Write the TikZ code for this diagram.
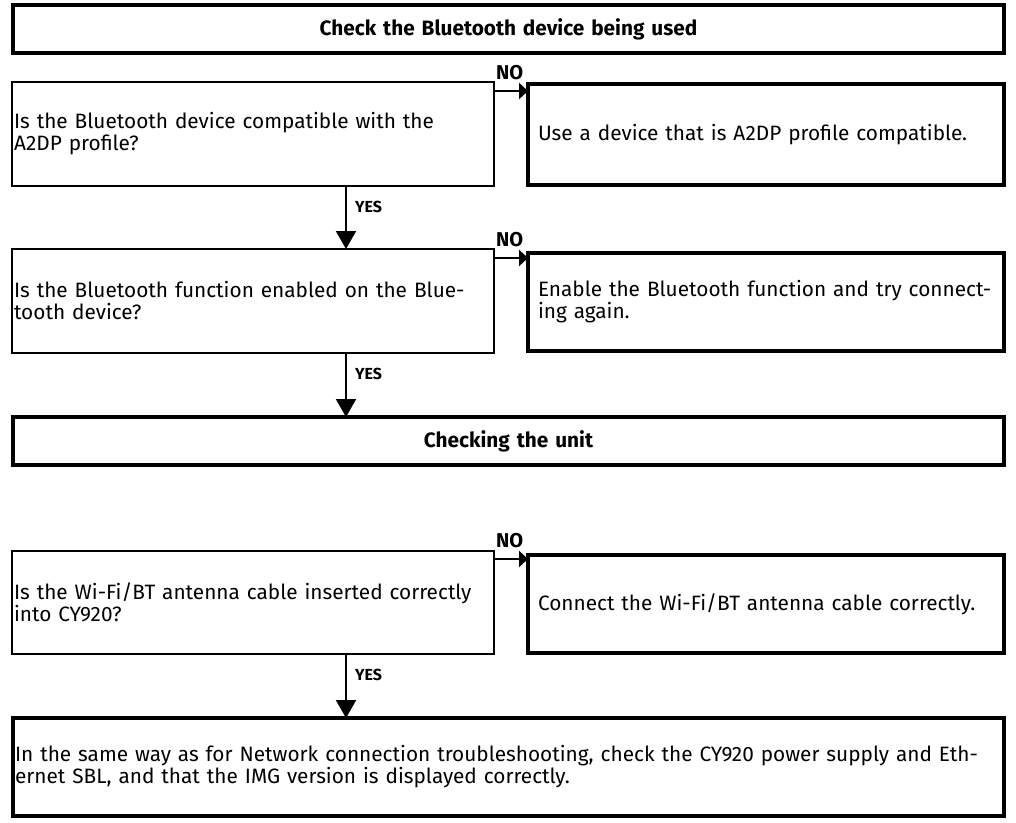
\documentclass[tikz,border=0pt]{standalone}
\usepackage{fontspec}
\setmainfont{Fira Sans}
\usetikzlibrary{arrows.meta}

\newcommand\txtfont{\fontsize{20.8}{22}\selectfont}

\begin{document}
\begin{tikzpicture}[x=1pt,y=-1pt,
  qbox/.style={draw,line width=1.2pt,outer sep=0pt,anchor=north west,align=left,
    inner xsep=2pt,text width=478pt,font=\txtfont},
  abox/.style={draw,line width=3.5pt,outer sep=0pt,anchor=north west,align=left,
    inner xsep=10pt,text width=456pt,font=\txtfont},
  headbox/.style={draw,line width=3.5pt,outer sep=0pt,anchor=north west,align=center,
    inner xsep=3pt,text width=985pt,minimum height=48pt,font=\bfseries\txtfont},
  endbox/.style={abox,inner xsep=2pt,text width=987pt},
  yes/.style={-{Triangle[width=20pt,length=18pt]},line width=2pt},
  no/.style={-{Triangle[width=16pt,length=9pt]},line width=2.4pt},
  yeslbl/.style={anchor=west,pos=0.33,xshift=8pt,inner sep=0pt,font=\bfseries\fontsize{16}{16}\selectfont},
  nolbl/.style={anchor=base west,yshift=12pt,xshift=1pt,inner sep=0pt,font=\bfseries\fontsize{20}{20}\selectfont}
]
\useasboundingbox (0,0) rectangle (1016,822);

% Bluetooth device
\node[headbox] (head1) at (13,5) {Check the Bluetooth device being used};
\node[qbox,minimum height=104pt] (q1) at (12,82)
  {Is the Bluetooth device compatible with the\\A2DP profile?};
\node[abox,minimum height=101pt] (a1) at (528,84)
  {Use a device that is A2DP profile compatible.};
\node[qbox,minimum height=104pt] (q2) at (12,249)
  {Is the Bluetooth function enabled on the Blue-\\tooth device?};
\node[abox,minimum height=98pt] (a2) at (528,253)
  {Enable the Bluetooth function and try connect-\\ing again.};

% unit
\node[headbox] (head2) at (13,417) {Checking the unit};
\node[qbox,minimum height=103pt] (q3) at (12,551)
  {Is the Wi-Fi/BT antenna cable inserted correctly\\into CY920?};
\node[abox,minimum height=98pt] (a3) at (528,555)
  {Connect the Wi-Fi/BT antenna cable correctly.};
\node[endbox,minimum height=98pt] (fin) at (13,718)
  {In the same way as for Network connection troubleshooting, check the CY920 power supply and Eth-\\ernet SBL, and that the IMG version is displayed correctly.};

% YES arrows
\coordinate (yx) at (346,0);
\draw[yes] (q1.south -| yx) -- node[yeslbl] {YES} (q2.north -| yx);
\draw[yes] (q2.south -| yx) -- node[yeslbl] {YES} (head2.north -| yx);
\draw[yes] (q3.south -| yx) -- node[yeslbl] {YES} (fin.north -| yx);

% NO arrows
\coordinate (n1) at ([yshift=-9pt]q1.north east);
\coordinate (n2) at ([yshift=-9pt]q2.north east);
\coordinate (n3) at ([yshift=-8pt]q3.north east);
\draw[no] (n1) node[nolbl] {NO} -- (n1 -| a1.west);
\draw[no] (n2) node[nolbl] {NO} -- (n2 -| a2.west);
\draw[no] (n3) node[nolbl] {NO} -- (n3 -| a3.west);
\end{tikzpicture}
\end{document}
